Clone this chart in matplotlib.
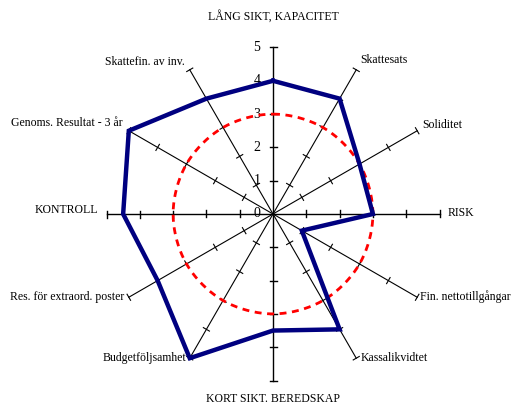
import numpy as np
import matplotlib
matplotlib.use("Agg")
import matplotlib.pyplot as plt

categories = ["LÅNG SIKT, KAPACITET", "Skattesats", "Soliditet", "RISK",
              "Fin. nettotillgångar", "Kassalikvidtet", "KORT SIKT. BEREDSKAP",
              "Budgetföljsamhet", "Res. för extraord. poster", "KONTROLL",
              "Genoms. Resultat - 3 år", "Skattefin. av inv."]
actual = [4, 4, 3, 3, 1, 4, 3.5, 5, 4, 4.5, 5, 4]
reference = [3, 3, 3, 3, 3, 3, 3, 3, 3, 3, 3, 3]
tick_values = [0, 1, 2, 3, 4, 5]
rmax = 5

# label offsets (pixels) from spoke tips, and alignment
label_style = [
    ((0, 30), "center"), ((4, 10), "left"), ((5, 6), "left"), ((8, 1), "left"),
    ((3, 1), "left"), ((4, 0), "left"), ((0, -18), "center"), ((-3, 0), "right"),
    ((-5, 0), "right"), ((-8, 4), "right"), ((-6, 8), "right"), ((-5, 8), "right"),
]

W, H = 513, 403
cx, cy, R = 273, 214, 166.5
unit = R / rmax
fig = plt.figure(figsize=(W / 100, H / 100), dpi=100)
ax = fig.add_axes([0, 0, 1, 1])
ax.set_xlim(-cx / unit, (W - cx) / unit)
ax.set_ylim(-(H - cy) / unit, cy / unit)
ax.axis("off")

n = len(categories)
theta = np.arange(n) * 2 * np.pi / n
ux, uy = np.sin(theta), np.cos(theta)

serif = ["Liberation Serif", "DejaVu Serif"]

# spokes and ticks
th = 3.5 / unit
for i in range(n):
    lw = 1.0 if i % 3 == 0 else 0.8
    ax.plot([0, rmax * ux[i]], [0, rmax * uy[i]], color="black", lw=lw, zorder=1)
    px, py = uy[i], -ux[i]
    for t in tick_values[1:]:
        x0, y0 = t * ux[i], t * uy[i]
        ax.plot([x0 - th * px, x0 + th * px], [y0 - th * py, y0 + th * py],
                color="black", lw=lw, zorder=1)

# value labels on top spoke
for t in tick_values:
    ax.annotate(str(t), (0, t), xytext=(-16, 0), textcoords="offset pixels",
                ha="center", va="center", family=serif, fontsize=10, zorder=2)


def smooth_closed(x, y, steps=20):
    # closed Catmull-Rom curve through the given vertices (drawing only)
    P = np.column_stack([x, y])
    m = len(P)
    out = []
    s = np.linspace(0, 1, steps, endpoint=False)[:, None]
    for k in range(m):
        p0, p1, p2, p3 = P[(k - 1) % m], P[k], P[(k + 1) % m], P[(k + 2) % m]
        c = 0.5 * ((2 * p1) + (-p0 + p2) * s + (2 * p0 - 5 * p1 + 4 * p2 - p3) * s ** 2
                   + (-p0 + 3 * p1 - 3 * p2 + p3) * s ** 3)
        out.append(c)
    out.append(P[:1])
    out = np.vstack(out)
    return out[:, 0], out[:, 1]


# series
ra = np.array(actual + actual[:1])
rr = np.array(reference)
tx = np.append(ux, ux[0]); ty = np.append(uy, uy[0])
sx, sy = smooth_closed(rr * ux, rr * uy)
ax.plot(sx, sy, color="#ff0000", lw=2.0, dashes=(2.5, 2.0), zorder=3)
ax.plot(ra * tx, ra * ty, color="#000080", lw=3.2, solid_joinstyle="miter", zorder=4)

# category labels
for i, cat in enumerate(categories):
    off, ha = label_style[i]
    ax.annotate(cat, (rmax * ux[i], rmax * uy[i]), xytext=off,
                textcoords="offset pixels", ha=ha, va="center",
                family=serif, fontsize=8.5)

fig.savefig("out.png", dpi=100)
